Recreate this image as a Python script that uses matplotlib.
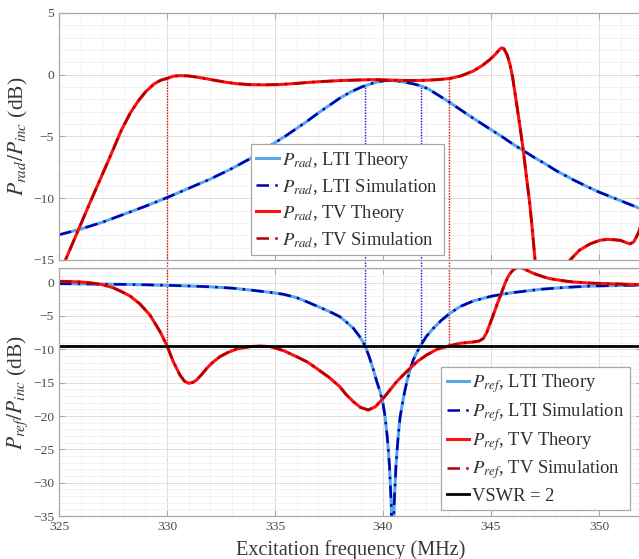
import numpy as np
import matplotlib
matplotlib.use('Agg')
import matplotlib.pyplot as plt
from matplotlib.ticker import MultipleLocator

plt.rcParams['font.family'] = ['Liberation Serif', 'DejaVu Serif']
plt.rcParams['mathtext.fontset'] = 'stix'

# radiated power, LTI antenna (dB)
f_rad_lti = [325, 326, 327, 328, 329, 330, 331, 332, 333, 334, 335, 335.5, 336, 336.5,
             337, 337.5, 338, 338.5, 339, 339.2, 339.5, 339.8, 340.1, 340.4, 340.7, 341.0,
             341.4, 341.75, 342.1, 342.6, 343.1, 343.6, 344.2, 345, 345.5, 346, 346.5, 347,
             347.5, 348, 348.8, 349.5, 350, 350.5, 351, 351.5, 352]
rad_lti = [-12.96, -12.5, -11.95, -11.3, -10.65, -9.95, -9.2, -8.45, -7.6, -6.65, -5.5, -4.95,
           -4.35, -3.75, -3.1, -2.5, -1.9, -1.4, -1.0, -0.88, -0.7, -0.56, -0.48, -0.47,
           -0.52, -0.6, -0.74, -0.9, -1.15, -1.7, -2.25, -2.85, -3.55, -4.45, -5.0, -5.6,
           -6.15, -6.7, -7.2, -7.75, -8.5, -9.1, -9.5, -9.85, -10.2, -10.55, -10.9]

# radiated power, time-varying antenna (dB)
f_rad_tv = [325.0, 325.3, 325.9, 326.4, 326.8, 327.3, 327.9, 328.3, 328.66, 329.0, 329.4, 329.7,
            330.0, 330.3, 330.6, 331.0, 331.4, 331.75, 332.2, 332.7, 333.2, 333.8, 334.5, 335.2,
            336.0, 336.9, 337.5, 338.2, 339.0, 339.6, 340.0, 340.6, 341.2, 341.6, 342.2, 342.6,
            343.1, 343.6, 344.17, 344.6, 344.95, 345.2, 345.4, 345.5, 345.6, 345.75, 345.88,
            346.0, 346.19, 346.35, 346.5, 346.65, 346.8, 346.92, 347.04, 347.3, 347.8, 348.0,
            348.2, 348.4, 348.66, 349.1, 349.58, 350.05, 350.4, 350.97, 351.43, 351.6, 351.74,
            351.85, 352.0]
rad_tv = [-16.3, -15.0, -12.55, -10.5, -8.9, -6.9, -4.45, -3.1, -2.15, -1.4, -0.75, -0.45,
          -0.3, -0.12, -0.07, -0.1, -0.2, -0.3, -0.45, -0.6, -0.72, -0.8, -0.82, -0.8,
          -0.7, -0.58, -0.52, -0.46, -0.42, -0.4, -0.42, -0.45, -0.47, -0.47, -0.43, -0.39,
          -0.3, -0.1, 0.29, 0.75, 1.23, 1.65, 2.05, 2.18, 2.1, 1.6, 0.83,
          -0.2, -2.4, -4.3, -6.2, -8.4, -10.5, -12.7, -15.0, -19.0, -22.0, -20.0,
          -18.0, -16.5, -15.0, -14.2, -13.7, -13.4, -13.33, -13.4, -13.7, -13.55, -13.1,
          -12.7, -11.8]

# reflected power, LTI antenna (dB)
f_ref_lti = [325, 327, 328.3, 329, 330, 331, 332, 333, 333.84, 334.5, 335.0, 335.4, 336.0,
             336.5, 337.0, 337.5, 338.0, 338.3, 338.63, 338.9, 339.17, 339.35, 339.55, 339.7,
             339.86, 340.0, 340.1, 340.2, 340.25, 340.3, 340.38, 340.45, 340.52, 340.6, 340.65,
             340.7, 340.79, 340.95, 341.1, 341.25, 341.4, 341.57, 341.74, 342.0, 342.33, 342.7,
             343.1, 343.56, 344.18, 345.0, 345.5, 346.0, 347.27, 348.5, 349.58, 351.0, 352.0]
ref_lti = [-0.15, -0.22, -0.27, -0.32, -0.4, -0.5, -0.62, -0.82, -1.1, -1.35, -1.55, -1.75, -2.25,
           -2.9, -3.6, -4.3, -5.1, -5.9, -6.85, -8.0, -9.45, -11.0, -13.0, -14.7,
           -16.3, -18.1, -20.2, -23.2, -25.2, -27.5, -33.0, -42.0, -33.0, -27.5, -25.3,
           -23.2, -20.2, -17.2, -14.9, -13.1, -11.6, -10.45, -9.45, -8.1, -6.85, -5.65,
           -4.6, -3.6, -2.75, -2.05, -1.75, -1.5, -1.0, -0.7, -0.52, -0.42, -0.38]

# reflected power, time-varying antenna (dB)
f_ref_tv = [325.0, 325.5, 326.0, 326.5, 327.0, 327.5, 327.9, 328.29, 328.75, 329.21, 329.68,
            330.0, 330.29, 330.6, 330.8, 331.0, 331.2, 331.37, 331.6, 331.84, 332.1, 332.45,
            332.8, 333.23, 333.84, 334.3, 334.8, 335.4, 336.0, 336.5, 336.9, 337.5, 338.0,
            338.3, 338.63, 338.95, 339.32, 339.65, 340.01, 340.3, 340.63, 340.95, 341.25,
            341.6, 342.02, 342.5, 343.1, 343.56, 344.18, 344.45, 344.64, 344.8, 344.95, 345.1,
            345.3, 345.5, 345.65, 345.8, 345.95, 346.1, 346.25, 346.45, 346.7, 346.96, 347.4,
            347.73, 348.3, 348.8, 349.5, 350.35, 351.1, 351.85, 352.0]
ref_tv = [0.2, 0.15, 0.1, -0.05, -0.3, -0.75, -1.35, -2.0, -3.2, -4.85, -7.35,
          -9.45, -11.85, -13.85, -14.75, -15.1, -14.95, -14.6, -13.8, -12.85, -12.0, -11.1,
          -10.5, -9.95, -9.6, -9.5, -9.6, -10.2, -11.1, -11.9, -12.8, -14.2, -15.6,
          -16.8, -17.85, -18.7, -19.1, -18.6, -17.35, -16.2, -14.85, -13.8, -12.85,
          -11.8, -10.85, -10.0, -9.45, -9.1, -8.9, -8.75, -8.4, -7.5, -6.2, -4.9,
          -3.1, -1.4, -0.1, 0.95, 1.65, 2.1, 2.3, 2.2, 1.8, 1.4, 0.9,
          0.6, 0.3, 0.1, -0.05, -0.15, -0.22, -0.3, -0.32]

# band edges where VSWR = 2
edges_lti = [339.17, 341.74]
edges_tv = [330.0, 343.07]
vswr2_db = 20 * np.log10(1 / 3)

c_lti = '#55a8ea'
c_lti_sim = '#0000b0'
c_tv = '#ff1010'
c_tv_sim = '#b00000'
sim_dash = (0, (5, 2.5, 1, 2.5))
edge_dots = (0, (1, 1))
tick_col = '#4a4a4a'
spine_col = '#a8a8a8'

fig = plt.figure(figsize=(6.39, 5.59), dpi=100)
ax1 = fig.add_axes([0.0923, 0.5349, 0.9127, 0.4419])
ax2 = fig.add_axes([0.0923, 0.0769, 0.9127, 0.4437])

# top: radiated power
ax1.plot(f_rad_lti, rad_lti, color=c_lti, lw=2.2, label=r'$P_{rad}$, LTI Theory')
ax1.plot(f_rad_lti, rad_lti, color=c_lti_sim, lw=1.8, ls=sim_dash, label=r'$P_{rad}$, LTI Simulation')
ax1.plot(f_rad_tv, rad_tv, color=c_tv, lw=2.2, label=r'$P_{rad}$, TV Theory')
ax1.plot(f_rad_tv, rad_tv, color=c_tv_sim, lw=1.8, ls=sim_dash, label=r'$P_{rad}$, TV Simulation')
for fe in edges_lti:
    ax1.plot([fe, fe], [-15.7, np.interp(fe, f_rad_lti, rad_lti)], color='#1010e0', lw=1.0,
             ls=edge_dots, clip_on=False, zorder=1)
for fe in edges_tv:
    ax1.plot([fe, fe], [-15.7, np.interp(fe, f_rad_tv, rad_tv)], color='#d01010', lw=1.0,
             ls=edge_dots, clip_on=False, zorder=1)

# bottom: reflected power
ax2.plot(f_ref_lti, ref_lti, color=c_lti, lw=2.2, label=r'$P_{ref}$, LTI Theory')
ax2.plot(f_ref_lti, ref_lti, color=c_lti_sim, lw=1.8, ls=sim_dash, label=r'$P_{ref}$, LTI Simulation')
ax2.plot(f_ref_tv, ref_tv, color=c_tv, lw=2.2, label=r'$P_{ref}$, TV Theory')
ax2.plot(f_ref_tv, ref_tv, color=c_tv_sim, lw=1.8, ls=sim_dash, label=r'$P_{ref}$, TV Simulation')
ax2.axhline(vswr2_db, color='black', lw=2, label='VSWR = 2')
for fe in edges_lti:
    ax2.plot([fe, fe], [vswr2_db, 2.2], color='#1010e0', lw=1.0, ls=edge_dots, zorder=1)
for fe in edges_tv:
    ax2.plot([fe, fe], [vswr2_db, 2.2], color='#d01010', lw=1.0, ls=edge_dots, zorder=1)

ax1.set_ylim(-15, 5)
ax2.set_ylim(-35, 2.2)
for ax in (ax1, ax2):
    ax.set_xlim(325, 352)
    ax.xaxis.set_major_locator(MultipleLocator(5))
    ax.xaxis.set_minor_locator(MultipleLocator(1))
    ax.yaxis.set_major_locator(MultipleLocator(5))
    ax.yaxis.set_minor_locator(MultipleLocator(1))
    ax.grid(which='major', color='#dcdcdc', lw=0.7)
    ax.grid(which='minor', color='#f0f0f0', lw=0.6)
    ax.set_axisbelow(True)
    ax.tick_params(which='both', direction='in', top=True, right=True, colors=spine_col,
                   labelcolor=tick_col, labelsize=9.7)
    ax.tick_params(which='major', length=4, width=0.8)
    ax.tick_params(which='minor', length=0)
    for sp in ax.spines.values():
        sp.set_color(spine_col)
        sp.set_linewidth(0.9)
ax1.tick_params(labelbottom=False)

ax1.set_ylabel(r'$P_{rad}/P_{inc}$ (dB)', fontsize=15.5, color='#383838', labelpad=2)
ax2.set_ylabel(r'$P_{ref}/P_{inc}$ (dB)', fontsize=15.5, color='#383838', labelpad=2)
ax2.set_xlabel('Excitation frequency (MHz)', fontsize=14.6, color='#383838', labelpad=5)

leg_kw = dict(fontsize=13.3, frameon=True, fancybox=False, framealpha=1, edgecolor=spine_col,
              handlelength=1.2, handletextpad=0.2, labelspacing=0.33, borderpad=0.3,
              borderaxespad=0, labelcolor='#303030')
l1 = ax1.legend(loc='lower left', bbox_to_anchor=(0.329, 0.02), **leg_kw)
l2 = ax2.legend(loc='lower left', bbox_to_anchor=(0.655, 0.024), **leg_kw)
for lg in (l1, l2):
    lg.get_frame().set_linewidth(0.9)
    lg.set_zorder(5)

fig.savefig('out.png', dpi=100)
